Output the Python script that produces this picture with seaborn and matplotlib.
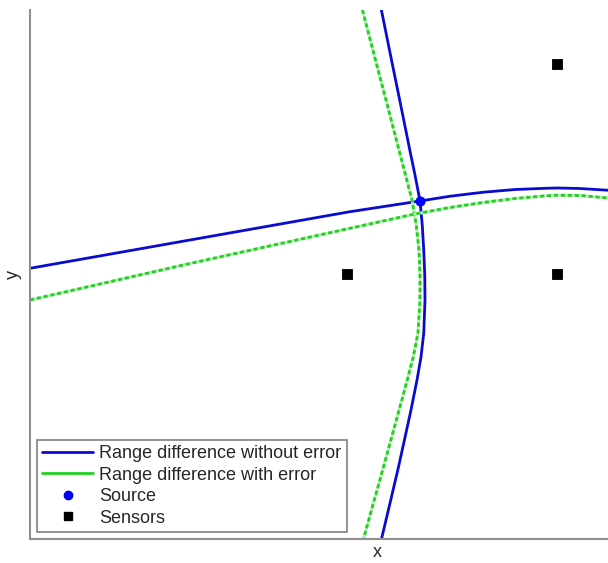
import numpy as np
import pandas as pd
import matplotlib
matplotlib.use("Agg")
import matplotlib.pyplot as plt
from matplotlib.lines import Line2D
import seaborn as sns

# Curves (data units)
blue_v_x = [7.028, 7.23, 7.394, 7.596, 7.70, 7.80, 7.845, 7.875, 7.895, 7.90,
            7.875, 7.82, 7.74, 7.62, 7.37, 7.215, 7.03]
blue_v_y = [10.58, 9.58, 8.78, 7.78, 7.28, 6.76, 6.28, 5.78, 5.28, 4.78,
            4.12, 3.64, 3.18, 2.58, 1.44, 0.78, 0.00]

green_v_x = [6.648, 6.91, 7.12, 7.38, 7.64, 7.725, 7.78, 7.80, 7.80,
             7.76, 7.665, 7.545, 7.30, 7.07, 6.885, 6.67]
green_v_y = [10.58, 9.58, 8.78, 7.78, 6.78, 6.28, 5.78, 5.28, 4.78,
             4.12, 3.64, 3.18, 2.28, 1.44, 0.78, 0.00]

blue_h_x = [0.00, 3.20, 6.40, 7.80, 8.40, 9.06, 9.70, 10.334, 10.54, 11.00, 11.56, 12.60]
blue_h_y = [5.414, 5.98, 6.546, 6.76, 6.855, 6.935, 6.99, 7.015, 7.02, 7.01, 6.975, 6.86]

green_h_x = [0.00, 3.20, 6.40, 7.70, 8.40, 9.06, 9.70, 10.334, 10.54, 11.00, 11.56, 12.60]
green_h_y = [4.78, 5.51, 6.214, 6.50, 6.63, 6.73, 6.81, 6.865, 6.875, 6.87, 6.82, 6.70]

source_x = [7.80]
source_y = [6.76]

sensor_x = [6.34, 10.54, 10.54]
sensor_y = [5.30, 5.30, 9.50]

sns.set_style("white")
plt.rcParams['font.family'] = ['Liberation Sans', 'DejaVu Sans']

fig = plt.figure(figsize=(6.08, 5.63), dpi=100)
# axes run past the right edge of the picture (cropped figure)
ax = fig.add_axes([30 / 608, 24 / 563, 694 / 608, 529 / 563])

blue = '#0a0ad0'
green = '#22d022'

def curve(xs, ys, **kw):
    df = pd.DataFrame({'x': xs, 'y': ys})
    sns.lineplot(data=df, x='x', y='y', sort=False, estimator=None, ax=ax,
                 solid_joinstyle='round', **kw)

curve(blue_v_x, blue_v_y, color=blue, linewidth=2)
curve(blue_h_x, blue_h_y, color=blue, linewidth=2)
for gx, gy in [(green_v_x, green_v_y), (green_h_x, green_h_y)]:
    curve(gx, gy, color='#b8f0b8', linewidth=2.2)
    curve(gx, gy, color=green, linewidth=2, linestyle=(0, (1.5, 1)))

sns.scatterplot(x=source_x, y=source_y, color='#0000ff', marker='o', s=45,
                edgecolor='#0000ff', ax=ax, zorder=5)
sns.scatterplot(x=sensor_x, y=sensor_y, color='black', marker='s', s=60,
                edgecolor='black', ax=ax, zorder=5)

ax.set_xlim(0, 13.88)
ax.set_ylim(0, 10.58)
ax.set_xticks([])
ax.set_yticks([])
ax.set_xlabel('x', fontsize=13)
ax.set_ylabel('y', fontsize=13)
ax.xaxis.set_label_coords(0.5, -0.01, transform=ax.transAxes)
ax.yaxis.set_label_coords(-0.012, 0.5, transform=ax.transAxes)
for side in ['top', 'right']:
    ax.spines[side].set_visible(False)
for side in ['left', 'bottom']:
    ax.spines[side].set_color('#909090')
    ax.spines[side].set_linewidth(1.5)

handles = [
    Line2D([], [], color=blue, linewidth=2, label='Range difference without error'),
    Line2D([], [], color=green, linewidth=2, label='Range difference with error'),
    Line2D([], [], color='#0000ff', marker='o', linestyle='none', markersize=6, label='Source'),
    Line2D([], [], color='black', marker='s', linestyle='none', markersize=6, label='Sensors'),
]
leg = ax.legend(handles=handles, loc='lower left', bbox_to_anchor=(7 / 694, 7 / 529),
                borderaxespad=0, fontsize=13, handlelength=2.8, labelspacing=0.25,
                handletextpad=0.35, borderpad=0.3, fancybox=False, framealpha=1)
leg.get_frame().set_edgecolor('#808080')
leg.get_frame().set_linewidth(1.2)

fig.savefig('out.png', dpi=100)
